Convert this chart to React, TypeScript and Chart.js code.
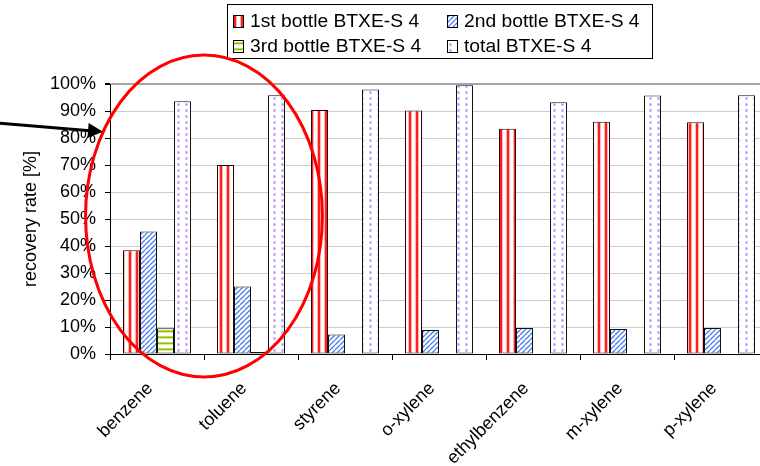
import React, { useEffect, useRef } from 'react';
import { Chart, registerables } from 'chart.js';

Chart.register(...registerables);

// ---- data ----
const categories = ['benzene', 'toluene', 'styrene', 'o-xylene', 'ethylbenzene', 'm-xylene', 'p-xylene'];
const bottle1 = [38.4, 70.0, 90.4, 90.2, 83.4, 86.0, 85.8];
const bottle2 = [45.4, 25.0, 7.2, 8.9, 9.6, 9.3, 9.6];
const bottle3 = [9.5, 0.7, 0.3, 0, 0, 0, 0];
const totalRate = [93.6, 95.8, 98.0, 99.5, 93.2, 95.7, 95.8];
const seriesLabels = ['1st bottle BTXE-S 4', '2nd bottle BTXE-S 4', '3rd bottle BTXE-S 4', 'total BTXE-S 4'];
const yAxisTitle = 'recovery rate [%]';
const yMin = 0;
const yMax = 100;
const yStep = 10;

const FONT = '"Liberation Sans", Arial, Helvetica, sans-serif';

function tile(w: number, h: number, draw: (c: CanvasRenderingContext2D) => void) {
  const c = document.createElement('canvas');
  c.width = w;
  c.height = h;
  const g = c.getContext('2d')!;
  g.fillStyle = '#ffffff';
  g.fillRect(0, 0, w, h);
  draw(g);
  return c;
}

function makePatterns(ctx: CanvasRenderingContext2D) {
  const red = tile(7, 1, (g) => {
    const cols = ['#ffffff', '#ffffff', '#ffb4b4', '#ff1e1e', '#ff1e1e', '#ffb4b4', '#ffffff'];
    cols.forEach((c, i) => {
      g.fillStyle = c;
      g.fillRect(i, 0, 1, 1);
    });
  });
  const blue = tile(5, 5, (g) => {
    g.strokeStyle = '#4a7cec';
    g.lineWidth = 1.3;
    for (const k of [-5, 0, 5]) {
      g.beginPath();
      g.moveTo(k, 5);
      g.lineTo(k + 5, 0);
      g.stroke();
    }
  });
  const green = tile(1, 6, (g) => {
    g.fillStyle = '#b9dd50';
    g.fillRect(0, 0, 1, 1);
    g.fillStyle = '#8cc400';
    g.fillRect(0, 1, 1, 1);
    g.fillStyle = '#d6ee96';
    g.fillRect(0, 2, 1, 1);
  });
  const dots = tile(8, 6, (g) => {
    g.fillStyle = '#dcc6ff';
    g.fillRect(1, 1, 3, 3);
    g.fillStyle = '#a877ff';
    g.fillRect(2, 2, 1, 1);
  });
  return [
    ctx.createPattern(red, 'repeat')!,
    ctx.createPattern(blue, 'repeat')!,
    ctx.createPattern(green, 'repeat')!,
    ctx.createPattern(dots, 'repeat')!,
  ];
}

export default function App() {
  const ref = useRef<HTMLCanvasElement | null>(null);

  useEffect(() => {
    const canvas = ref.current!;
    const ctx0 = canvas.getContext('2d')!;
    const pats = makePatterns(ctx0);
    const borders = ['#2a0000', '#111111', '#111111', '#111111'];
    const seriesData = [bottle1, bottle2, bottle3, totalRate];

    const yTicks: number[] = [];
    for (let v = yMin; v <= yMax; v += yStep) yTicks.push(v);

    const legendPlugin = {
      id: 'boxLegend',
      afterDraw(chart: any) {
        const c = chart.ctx as CanvasRenderingContext2D;
        c.save();
        const bx = 227.5, by = 4.5, bw = 425, bh = 54;
        c.fillStyle = '#fff';
        c.fillRect(bx, by, bw, bh);
        c.strokeStyle = '#000';
        c.lineWidth = 1;
        c.strokeRect(bx, by, bw, bh);
        const cols = [233, 447];
        const rows = [21, 46];
        c.font = `18px ${FONT}`;
        c.textBaseline = 'middle';
        c.textAlign = 'left';
        seriesLabels.forEach((lab, i) => {
          const x = cols[i % 2];
          const y = rows[Math.floor(i / 2)];
          c.fillStyle = pats[i];
          c.fillRect(x, y - 6, 10, 12);
          c.strokeStyle = '#000';
          c.strokeRect(x + 0.5, y - 5.5, 10, 12);
          c.save();
          c.translate(x + 17, y + 1);
          c.scale(1.07, 1);
          c.fillStyle = '#000';
          c.fillText(lab, 0, 0);
          c.restore();
        });
        c.restore();
      },
    };

    const annotatePlugin = {
      id: 'annotations',
      afterDraw(chart: any) {
        const c = chart.ctx as CanvasRenderingContext2D;
        const xs = chart.scales.x;
        const ys = chart.scales.y;
        const cat = xs.getPixelForValue(1) - xs.getPixelForValue(0);
        const cx = (xs.getPixelForValue(0) + xs.getPixelForValue(1)) / 2;
        const cy = ys.getPixelForValue(51.1);
        const ry = Math.abs(ys.getPixelForValue(0) - ys.getPixelForValue(59.6));
        const rx = cat * 1.26;
        c.save();
        c.strokeStyle = '#ff0000';
        c.lineWidth = 3;
        c.beginPath();
        c.ellipse(cx, cy, rx, ry, 0, 0, Math.PI * 2);
        c.stroke();

        // arrow
        const tipX = chart.chartArea.left - 7;
        const tipY = ys.getPixelForValue(82.3);
        const sx = 0;
        const sy = ys.getPixelForValue(85.5);
        const dx = tipX - sx, dy = tipY - sy;
        const len = Math.hypot(dx, dy);
        const ux = dx / len, uy = dy / len;
        const hl = 15, hw = 7.5;
        const bxp = tipX - ux * hl, byp = tipY - uy * hl;
        c.strokeStyle = '#000';
        c.fillStyle = '#000';
        c.lineWidth = 3;
        c.beginPath();
        c.moveTo(sx, sy);
        c.lineTo(bxp + ux * 2, byp + uy * 2);
        c.stroke();
        c.beginPath();
        c.moveTo(tipX, tipY);
        c.lineTo(bxp - uy * hw, byp + ux * hw);
        c.lineTo(bxp + uy * hw, byp - ux * hw);
        c.closePath();
        c.fill();
        c.restore();
      },
    };

    const chart = new Chart(canvas, {
      type: 'bar',
      data: {
        labels: categories,
        datasets: seriesData.map((d, i) => ({
          label: seriesLabels[i],
          data: d,
          backgroundColor: pats[i],
          borderColor: borders[i],
          borderWidth: 1,
          borderSkipped: false,
          categoryPercentage: 68 / 94,
          barPercentage: 1,
        })),
      },
      options: {
        responsive: false,
        animation: false,
        devicePixelRatio: 1,
        layout: { padding: { top: 84, right: 12, bottom: 0, left: 0 } },
        plugins: {
          legend: { display: false },
          tooltip: { enabled: false },
          title: { display: false },
        },
        scales: {
          x: {
            afterFit: (s: any) => {
              s.height = 112;
            },
            grid: {
              display: true,
              drawOnChartArea: false,
              drawTicks: true,
              tickLength: 6,
              color: '#000',
              offset: true,
            },
            border: { color: '#000', width: 1 },
            ticks: {
              color: '#000',
              font: { family: FONT, size: 18 },
              minRotation: 45,
              maxRotation: 45,
              autoSkip: false,
              padding: 18,
              labelOffset: -7,
            },
          },
          y: {
            min: yMin,
            max: yMax,
            afterFit: (s: any) => {
              s.width = 110;
            },
            afterBuildTicks: (s: any) => {
              s.ticks = yTicks.map((v) => ({ value: v }));
            },
            grid: {
              color: (c: any) => (c.tick && c.tick.value === yMax ? '#a6a6a6' : c.tick && c.tick.value === yMin ? '#000' : '#cccccc'),
              lineWidth: (c: any) => (c.tick && c.tick.value === yMax ? 2 : 1),
              tickColor: '#000',
              tickLength: 5,
              drawTicks: true,
            },
            border: { color: '#000', width: 1 },
            ticks: {
              color: '#000',
              font: { family: FONT, size: 18 },
              padding: 9,
              callback: (v: any) => `${v}%`,
            },
            title: {
              display: true,
              text: yAxisTitle,
              color: '#000',
              font: { family: FONT, size: 18 },
              padding: { top: 20, bottom: 0 },
            },
          },
        },
      },
      plugins: [legendPlugin, annotatePlugin],
    } as any);

    return () => chart.destroy();
  }, []);

  return (
    <div
      style={{
        position: 'fixed',
        left: 0,
        top: 0,
        width: 760,
        height: 466,
        overflow: 'hidden',
        background: '#fff',
      }}
    >
      <canvas ref={ref} width={780} height={466} style={{ display: 'block', width: 780, height: 466 }} />
    </div>
  );
}
